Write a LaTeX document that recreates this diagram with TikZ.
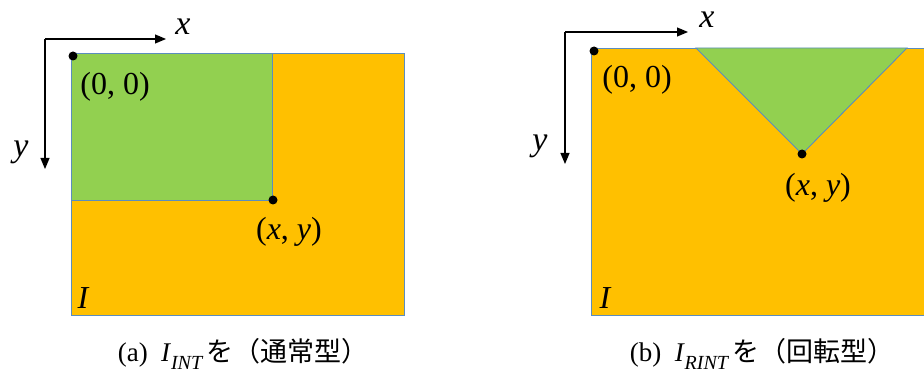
\documentclass[tikz,border=0pt]{standalone}
\usepackage{fontspec}
\setmainfont{Liberation Serif}
\newfontfamily\cjk{Noto Sans CJK JP}
\usetikzlibrary{arrows.meta}
\definecolor{orng}{HTML}{FFC000}
\definecolor{grn}{HTML}{92D050}
\definecolor{edge}{HTML}{5B8DBE}
\tikzset{
  area/.style={fill=orng,draw=edge,line width=0.9pt},
  part/.style={fill=grn,draw=edge,line width=0.9pt},
  pt/.style={circle,fill=black,inner sep=0pt,minimum size=9pt},
  axis/.style={line width=1.2pt,-{Triangle[length=11pt,width=9pt]}},
  lbl/.style={inner sep=0pt,font=\fontsize{32}{36}\selectfont},
  var/.style={inner sep=0pt,font=\fontsize{34}{38}\selectfont\itshape},
  captxt/.style={inner sep=0pt,font=\fontsize{27}{32}\selectfont}
}
\newcommand{\subi}[1]{{\itshape I}\kern0.03em\raisebox{-0.3em}{\fontsize{20}{22}\selectfont\itshape #1}\kern0.15em}
\begin{document}
\begin{tikzpicture}[x=1pt,y=-1pt]
\useasboundingbox (0,0) rectangle (924,374);
\clip (0,0) rectangle (924,374);
% ---------- panel (a) ----------
\draw[area] (71,53) rectangle (404,315);
\draw[part] (71,53) rectangle (272,200);
\node[pt] (a0) at (73,56) {};
\node[pt] (axy) at (273,200) {};
\coordinate (aO) at (45,39);
\coordinate (aX) at (166,39);
\coordinate (aY) at (45,169);
\draw[axis] (aO) -- (aX);
\draw[axis] (aO) -- (aY);
\node[var] (ax) at (183,27) {x};
\node[var] (ay) at (21,152) {y};
\node[lbl] (a00) at (115,87) {(0, 0)};
\node[lbl] (axyl) at (289,232) {(\textit{x}, \textit{y})};
\node[lbl,font=\fontsize{32}{36}\selectfont\itshape] (aI) at (83,298) {I};
\node[captxt] (acap) at (243,354) {(a)\ \ \subi{INT}{\cjk を（通常型）}};
% ---------- panel (b) ----------
\draw[area] (591,48) rectangle (930,315);
\draw[part] (696,48) -- (907,48) -- (802,154) -- cycle;
\node[pt] (b0) at (594,51) {};
\node[pt] (bxy) at (802,154) {};
\coordinate (bO) at (565,32);
\coordinate (bX) at (688,32);
\coordinate (bY) at (565,164);
\draw[axis] (bO) -- (bX);
\draw[axis] (bO) -- (bY);
\node[var] (bx) at (707,20) {x};
\node[var] (by) at (540,146) {y};
\node[lbl] (b00) at (637,80) {(0, 0)};
\node[lbl] (bxyl) at (818,188) {(\textit{x}, \textit{y})};
\node[lbl,font=\fontsize{32}{36}\selectfont\itshape] (bI) at (605,298) {I};
\node[captxt] (bcap) at (762,354) {(b)\ \ \subi{RINT}{\cjk を（回転型）}};
\end{tikzpicture}
\end{document}
